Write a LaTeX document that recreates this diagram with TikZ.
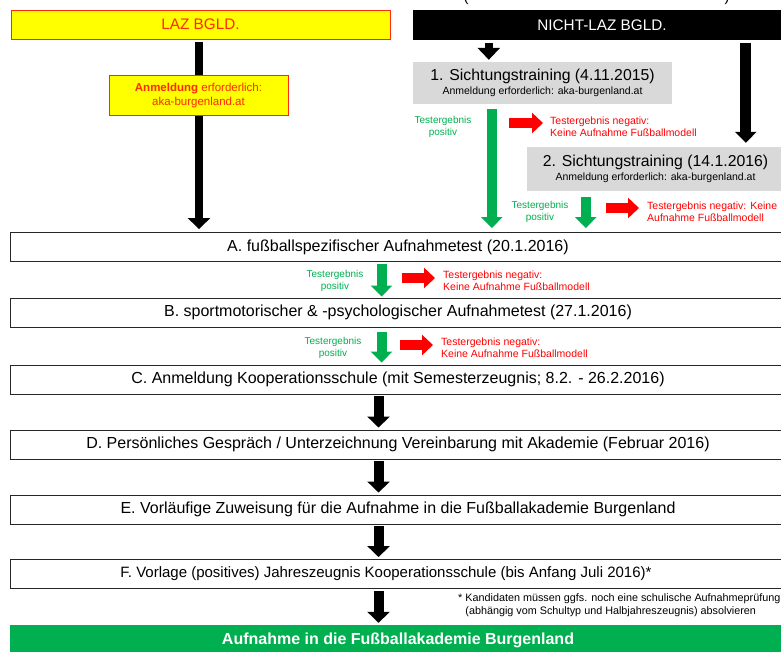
\documentclass[tikz,border=0pt]{standalone}
\usepackage{fontspec}
\setmainfont{Liberation Sans}
\usetikzlibrary{arrows.meta}
\definecolor{ygold}{HTML}{FFFF00}
\definecolor{lazred}{HTML}{FF2A00}
\definecolor{offgreen}{HTML}{00B050}
\definecolor{sgrey}{HTML}{D9D9D9}
\definecolor{negred}{HTML}{FF0000}
\newcommand{\fsz}[2]{\fontsize{#1}{#2}\selectfont}
\begin{document}
\begin{tikzpicture}[x=1pt,y=-1pt,
  stage/.style={draw=black!85, line width=0.9pt, minimum width=776pt, minimum height=29pt, inner sep=0pt, font=\fsz{16}{19}},
  blkarrow/.style={draw=black, line width=10pt, -{Triangle[width=22pt,length=11pt]}},
  grnarrow/.style={draw=offgreen, line width=10pt, -{Triangle[width=21pt,length=11pt]}},
  redarrow/.style={draw=negred, line width=10pt, -{Triangle[width=20pt,length=11pt]}},
  postext/.style={text=offgreen, align=center, inner sep=0pt, font=\fsz{10}{12}},
  negtext/.style={text=negred, align=left, anchor=west, inner sep=0pt, font=\fsz{10.5}{12}},
  sbox/.style={fill=sgrey, inner sep=0pt, align=center}
]
\useasboundingbox (0,0) rectangle (781,651);
\fill[white] (0,0) rectangle (781,651);
\clip (0,0) rectangle (781,651);

% cut-off line at the top
\node[anchor=base, inner sep=0pt, font=\fsz{15}{18}] (lparen) at (466,1) {(};
\node[anchor=base, inner sep=0pt, font=\fsz{15}{18}] (rparen) at (727,1) {)};

% heads
\node[fill=ygold, draw=lazred, line width=0.8pt, minimum width=379pt, minimum height=29pt, inner sep=0pt, text=lazred, font=\fsz{15.3}{18}] (laz) at (200.5,24.5) {LAZ BGLD.};
\node[fill=black, minimum width=378pt, minimum height=30pt, inner sep=0pt, text=white, font=\fsz{15.3}{18}] (nlaz) at (602,25) {NICHT-LAZ BGLD.};

% stages
\node[stage] (A) at (398,247) {A. fußballspezifischer Aufnahmetest (20.1.2016)};
\node[stage] (B) at (398,312.5) {B. sportmotorischer \& -psychologischer Aufnahmetest (27.1.2016)};
\node[stage] (C) at (398,379.5) {C. Anmeldung Kooperationsschule (mit Semesterzeugnis; 8.2. - 26.2.2016)};
\node[stage] (D) at (398,444.5) {D. Persönliches Gespräch / Unterzeichnung Vereinbarung mit Akademie (Februar 2016)};
\node[stage] (E) at (398,509.5) {E. Vorläufige Zuweisung für die Aufnahme in die Fußballakademie Burgenland};
\node[stage, font=\fsz{15}{18}] (F) at (398,574) {F. Vorlage (positives) Jahreszeugnis Kooperationsschule (bis Anfang Juli 2016)*\hspace*{24pt}};
\node[fill=offgreen, minimum width=776pt, minimum height=30pt, inner sep=0pt, text=white, font=\bfseries\fsz{16}{19}] (G) at (398,640) {Aufnahme in die Fußballakademie Burgenland};

% LAZ line behind the registration box
\draw[blkarrow, line width=8pt, shorten <=3pt, shorten >=3pt] ([xshift=-1.5pt]laz.south) -- ([xshift=-1.5pt]laz.south |- A.north);
\node[fill=ygold, draw=lazred, line width=0.8pt, minimum width=179pt, minimum height=40pt, inner sep=0pt, text=lazred, align=center, font=\fsz{11.5}{14}] (anm) at (198.5,95.5) {\textbf{Anmeldung} erforderlich:\\aka-burgenland.at};

% Sichtungstrainings
\node[sbox, minimum width=259pt, minimum height=42pt] (s1) at (542.5,83) {\fsz{15.8}{17}1. Sichtungstraining (4.11.2015)\\[1.5pt]\fsz{10.5}{12}Anmeldung erforderlich: aka-burgenland.at};
\node[sbox, minimum width=257pt, minimum height=44pt] (s2) at (655.5,169) {\fsz{15.8}{17}2. Sichtungstraining (14.1.2016)\\[2.5pt]\fsz{10.5}{12}Anmeldung erforderlich: aka-burgenland.at};

\draw[blkarrow, line width=8pt, -{Triangle[width=22pt,length=12pt]}, shorten <=3pt, shorten >=2pt] ([xshift=76pt]nlaz.south west) -- ([xshift=76pt]nlaz.south west |- s1.north);
\draw[blkarrow, line width=11pt, -{Triangle[width=21pt,length=11pt]}, shorten <=3pt, shorten >=4pt] ([xshift=333pt]nlaz.south west) -- ([xshift=333pt]nlaz.south west |- s2.north);

\draw[grnarrow, shorten <=5pt, shorten >=4pt] ([xshift=79pt]s1.south west) -- ([xshift=79pt]s1.south west |- A.north);
\node[postext] (pos1) at (443,127) {Testergebnis\\positiv};
\coordinate (r1a) at (509,123);
\coordinate (r1b) at (543,123);
\draw[redarrow] (r1a) -- (r1b);
\node[negtext] (neg1) at (550,127) {Testergebnis negativ:\\Keine Aufnahme Fußballmodell};

\draw[grnarrow, shorten <=6pt, shorten >=4pt] ([xshift=59pt]s2.south west) -- ([xshift=59pt]s2.south west |- A.north);
\node[postext] (pos2) at (540,212) {Testergebnis\\positiv};
\coordinate (r2a) at (606,208);
\coordinate (r2b) at (639,208);
\draw[redarrow] (r2a) -- (r2b);
\node[negtext] (neg2) at (647,212) {Testergebnis negativ: Keine\\Aufnahme Fußballmodell};

% A -> B
\draw[grnarrow, shorten <=2pt, shorten >=1pt] ([xshift=372pt]A.south west) -- ([xshift=372pt]A.south west |- B.north);
\node[postext] (pos3) at (335,280.5) {Testergebnis\\positiv};
\coordinate (r3a) at (402,278);
\coordinate (r3b) at (435,278);
\draw[redarrow] (r3a) -- (r3b);
\node[negtext] (neg3) at (443,280.5) {Testergebnis negativ:\\Keine Aufnahme Fußballmodell};

% B -> C
\draw[grnarrow, shorten <=5pt, shorten >=2pt] ([xshift=372pt]B.south west) -- ([xshift=372pt]B.south west |- C.north);
\node[postext] (pos4) at (333,348) {Testergebnis\\positiv};
\coordinate (r4a) at (400,345);
\coordinate (r4b) at (433,345);
\draw[redarrow] (r4a) -- (r4b);
\node[negtext] (neg4) at (441,348) {Testergebnis negativ:\\Keine Aufnahme Fußballmodell};

% black arrows C..G
\draw[blkarrow, shorten <=2pt, shorten >=2pt] ([xshift=369pt]C.south west) -- ([xshift=369pt]C.south west |- D.north);
\draw[blkarrow, shorten <=2pt, shorten >=2pt] ([xshift=369pt]D.south west) -- ([xshift=369pt]D.south west |- E.north);
\draw[blkarrow, shorten <=2pt, shorten >=2pt] ([xshift=369pt]E.south west) -- ([xshift=369pt]E.south west |- F.north);
\draw[blkarrow, shorten <=2pt, shorten >=2pt] ([xshift=369pt]F.south west) -- ([xshift=369pt]F.south west |- G.north);

% footnote
\node[anchor=west, align=left, inner sep=0pt, font=\fsz{10.8}{12.5}] (fn) at (458,605) {* Kandidaten müssen ggfs. noch eine schulische Aufnahmeprüfung\\\hphantom{* }(abhängig vom Schultyp und Halbjahreszeugnis) absolvieren};
\end{tikzpicture}
\end{document}
